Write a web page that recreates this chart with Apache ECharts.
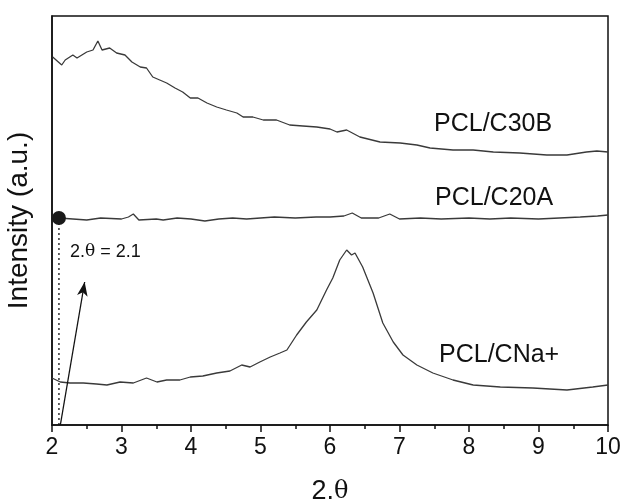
<!DOCTYPE html>
<html>
<head>
<meta charset="utf-8">
<script src="https://cdn.jsdelivr.net/npm/echarts@6/dist/echarts.min.js"></script>
<style>
  html, body { margin: 0; padding: 0; background: #fff; }
  #chart { width: 624px; height: 502px; }
</style>
</head>
<body>
<div id="chart"></div>
<script>
// 2θ values and intensities (arbitrary units)
const c30bX = [2.01, 2.14, 2.19, 2.30, 2.36, 2.50, 2.59, 2.66, 2.72, 2.83, 2.93, 3.05, 3.15, 3.27, 3.36, 3.45, 3.55, 3.65, 3.77, 3.88, 3.99, 4.10, 4.23, 4.37, 4.51, 4.66, 4.75, 4.89, 5.04, 5.23, 5.42, 5.61, 5.81, 6.00, 6.10, 6.24, 6.43, 6.72, 7.01, 7.25, 7.44, 7.77, 8.06, 8.35, 8.73, 9.12, 9.41, 9.69, 9.84, 10.0];
const c30bY = [368, 360, 365, 370, 367, 373, 375, 384, 375, 377, 372, 370, 363, 358, 357, 348, 345, 342, 337, 333, 327, 327, 322, 318, 315, 312, 308, 308, 305, 305, 300, 299, 298, 296, 293, 295, 288, 283, 282, 280, 277, 275, 275, 273, 272, 270, 270, 273, 274, 273];

const c20aX = [2.1, 2.3, 2.5, 2.7, 3.0, 3.1, 3.17, 3.25, 3.5, 3.6, 3.8, 4.0, 4.2, 4.4, 4.6, 4.8, 5.0, 5.2, 5.5, 5.8, 6.0, 6.2, 6.32, 6.45, 6.7, 6.86, 7.0, 7.3, 7.6, 8.0, 8.3, 8.6, 9.0, 9.3, 9.6, 9.85, 10.0];
const c20aY = [207, 206, 205, 207, 206, 208, 211, 205, 206, 205, 207, 206, 204, 206, 207, 206, 207, 208, 207, 208, 208, 209, 212, 207, 207, 211, 206, 207, 206, 207, 206, 207, 206, 207, 208, 209, 210];

const cnaX = [2.0, 2.12, 2.26, 2.45, 2.64, 2.79, 2.98, 3.17, 3.36, 3.51, 3.65, 3.84, 3.99, 4.17, 4.37, 4.56, 4.73, 4.85, 4.99, 5.14, 5.28, 5.38, 5.52, 5.66, 5.81, 5.95, 6.04, 6.14, 6.24, 6.31, 6.36, 6.47, 6.62, 6.76, 6.91, 7.05, 7.25, 7.48, 7.77, 8.06, 8.45, 8.92, 9.41, 9.78, 10.0];
const cnaY = [47, 43, 42, 42, 41, 40, 43, 42, 47, 43, 45, 45, 48, 49, 52, 54, 60, 58, 63, 68, 72, 75, 90, 103, 115, 135, 147, 165, 175, 170, 172, 158, 132, 102, 83, 70, 60, 52, 45, 40, 38, 37, 35, 38, 40];

const xTicks = [2, 3, 4, 5, 6, 7, 8, 9, 10];
const markerX = 2.1;      // 2θ = 2.1 marker
const markerY = 207;
const arrowFrom = [2.12, 0];
const arrowTo = [2.47, 143];

const zip = (xs, ys) => xs.map((x, i) => [x, ys[i]]);
const font = '"Liberation Sans", Arial, sans-serif';
const serif = '"DejaVu Serif", "Liberation Serif", serif';
const lineColor = '#3a3a3a';

const chart = echarts.init(document.getElementById('chart'));

const option = {
  animation: false,
  grid: {
    left: 52, right: 16, top: 16, bottom: 77,
    outerBoundsMode: 'none',
    containLabel: false,
    show: true, borderColor: '#111', borderWidth: 1.5
  },
  xAxis: {
    type: 'value',
    min: xTicks[0],
    max: xTicks[xTicks.length - 1],
    interval: 1,
    axisLine: { lineStyle: { color: '#111', width: 1.5 } },
    axisTick: { show: true, length: 7, lineStyle: { color: '#111', width: 1.5 } },
    minorTick: { show: true, splitNumber: 2, length: 4, lineStyle: { color: '#111', width: 1.5 } },
    splitLine: { show: false },
    axisLabel: { color: '#111', fontSize: 23, fontFamily: font, margin: 11 },
    name: '{a|2.}{b|θ}',
    nameLocation: 'middle',
    nameGap: 53,
    nameTextStyle: {
      rich: {
        a: { fontSize: 27, fontFamily: font, color: '#111' },
        b: { fontSize: 24, fontFamily: serif, color: '#111' }
      }
    }
  },
  yAxis: {
    type: 'value',
    min: 0,
    max: 409,
    axisLine: { show: true, lineStyle: { color: '#111', width: 1.5 } },
    axisTick: { show: false },
    axisLabel: { show: false },
    splitLine: { show: false },
    name: 'Intensity (a.u.)',
    nameLocation: 'middle',
    nameGap: 19,
    nameTextStyle: { fontSize: 28, fontFamily: font, color: '#111' }
  },
  series: [
    {
      name: 'PCL/C30B', type: 'line', data: zip(c30bX, c30bY),
      showSymbol: false, lineStyle: { color: lineColor, width: 1.3 }
    },
    {
      name: 'PCL/C20A', type: 'line', data: zip(c20aX, c20aY),
      showSymbol: false, lineStyle: { color: lineColor, width: 1.3 }
    },
    {
      name: 'PCL/CNa+', type: 'line', data: zip(cnaX, cnaY),
      showSymbol: false, lineStyle: { color: lineColor, width: 1.3 },
      markLine: {
        silent: true,
        symbol: ['none', 'arrow'],
        symbolSize: [8, 14],
        label: { show: false },
        lineStyle: { color: '#111', width: 1.3, type: 'solid' },
        data: [[{ coord: arrowFrom }, { coord: arrowTo }]]
      }
    },
    {
      // dotted drop line under the marker
      type: 'line', data: [[markerX, markerY], [markerX, 0]],
      showSymbol: false, lineStyle: { color: '#111', width: 1.3, type: [2, 3] }
    },
    {
      type: 'scatter', data: [[markerX, markerY]],
      symbolSize: 14, itemStyle: { color: '#1a1a1a', opacity: 1 }, z: 5
    }
  ],
  graphic: [
    { type: 'text', left: 434, top: 112, style: { text: 'PCL/C30B', font: '25px ' + font, fill: '#111' } },
    { type: 'text', left: 435, top: 186, style: { text: 'PCL/C20A', font: '25px ' + font, fill: '#111' } },
    { type: 'text', left: 439, top: 343, style: { text: 'PCL/CNa+', font: '25px ' + font, fill: '#111' } },
    {
      type: 'text', left: 70, top: 243,
      style: {
        text: '{a|2.}{b|θ}{a| = 2.1}',
        rich: {
          a: { fontSize: 18, fontFamily: font, fill: '#111' },
          b: { fontSize: 17, fontFamily: serif, fill: '#111' }
        }
      }
    }
  ]
};

chart.setOption(option);
</script>
</body>
</html>
